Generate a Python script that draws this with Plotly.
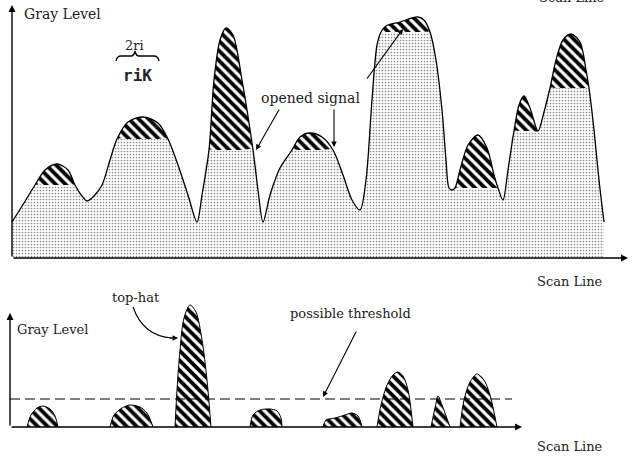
import plotly.graph_objects as go

W, H = 633, 456

# ---------------- data (scan position, gray level) ----------------
# top panel: original signal
signal_x = [0, 12, 23, 33, 45, 56, 63, 70, 75, 82, 90, 98, 105, 116, 131, 146, 156, 166, 176, 185,
            190, 197, 202, 208, 214, 221, 230, 241, 246, 251, 258, 268, 280, 288, 298, 310, 321, 331,
            340, 348, 354, 360, 365, 369, 374, 388, 400, 406, 412, 418, 424, 430, 434, 437, 440, 443,
            448, 456, 466, 475, 482, 486, 491, 496, 502, 507, 512, 518, 526, 532, 538, 544, 551, 559,
            568, 574, 577, 582, 587, 592]
signal_y = [36, 55, 73, 88, 94, 88, 73, 62, 57, 62, 73, 98, 119, 136, 141, 135, 119, 93, 63, 36,
            63, 108, 178, 218, 230, 223, 178, 108, 68, 36, 63, 90, 108, 121, 125, 121, 108, 83,
            58, 48, 78, 158, 213, 226, 232, 236, 240, 241, 238, 226, 198, 148, 98, 70, 68, 70,
            88, 113, 123, 110, 83, 70, 58, 88, 127, 153, 162, 150, 127, 146, 170, 198, 218, 224,
            216, 188, 170, 128, 78, 36]

# opening: peaks narrower than the structuring element are clipped to these levels
hump_start = [23, 105, 197, 280, 369, 443, 502, 538]
hump_end = [63, 156, 241, 321, 418, 486, 526, 577]
hump_level = [73, 119, 108, 108, 226, 70, 127, 170]

# bottom panel: top-hat residues (signal - opening)
tophat_x = [
    [17, 21, 27, 33, 40, 45, 48],
    [100, 104, 112, 120, 130, 137, 143],
    [165, 167, 170, 174, 180, 186, 192, 197, 201],
    [240, 243, 250, 260, 267, 271, 272],
    [313, 316, 325, 335, 342, 348, 352],
    [367, 371, 377, 383, 388, 393, 398, 403],
    [421, 425, 428, 432, 440],
    [450, 454, 460, 467, 474, 480, 487],
]
tophat_y = [
    [0, 12, 19, 21, 18, 11, 0],
    [0, 12, 19, 22, 20, 14, 0],
    [0, 37, 77, 109, 122, 115, 87, 47, 0],
    [0, 12, 17, 18, 16, 9, 0],
    [0, 7, 9, 12, 14, 11, 0],
    [0, 22, 42, 52, 55, 51, 37, 0],
    [0, 19, 31, 22, 0],
    [0, 27, 45, 53, 47, 32, 0],
]
threshold = 28
threshold_span = [0, 502]

# derived opening curve
opening_y = []
for xv, yv in zip(signal_x, signal_y):
    lv = yv
    for s, e, l in zip(hump_start, hump_end, hump_level):
        if s <= xv <= e:
            lv = min(yv, l)
    opening_y.append(lv)

HATCH = dict(shape="\\", size=7, solidity=0.55, fgcolor="black", fgopacity=1, bgcolor="white")
DOTS = dict(shape=".", size=3, solidity=0.25, fgcolor="#8c8c8c", fgopacity=1, bgcolor="white")
SM = 0.85

fig = go.Figure()
fig.add_trace(go.Scatter(x=signal_x, y=signal_y, mode="lines", fill="tozeroy",
                         line=dict(width=0, shape="spline", smoothing=SM),
                         fillpattern=HATCH, fillcolor="white", hoverinfo="skip"))
fig.add_trace(go.Scatter(x=signal_x, y=opening_y, mode="lines", fill="tozeroy",
                         line=dict(width=0, shape="spline", smoothing=SM),
                         fillpattern=DOTS, fillcolor="white", hoverinfo="skip"))
fig.add_trace(go.Scatter(x=signal_x, y=signal_y, mode="lines",
                         line=dict(width=1.3, color="black", shape="spline", smoothing=SM),
                         hoverinfo="skip"))

for hx, hy in zip(tophat_x, tophat_y):
    fig.add_trace(go.Scatter(x=hx, y=hy, mode="lines", fill="tozeroy",
                             line=dict(width=1, color="black", shape="spline", smoothing=SM),
                             fillpattern=HATCH, fillcolor="white",
                             xaxis="x2", yaxis="y2", hoverinfo="skip"))

fig.add_trace(go.Scatter(x=threshold_span, y=[threshold, threshold], mode="lines",
                         line=dict(width=1, color="black", dash="10px,5px"),
                         xaxis="x2", yaxis="y2", hoverinfo="skip"))

split = 1 - 270 / H
ax_off = dict(visible=False, showgrid=False, zeroline=False, fixedrange=True)
fig.update_layout(
    width=W, height=H, autosize=False,
    margin=dict(l=0, r=0, t=0, b=0),
    paper_bgcolor="white", plot_bgcolor="white",
    showlegend=False,
    xaxis=dict(domain=[0, 1], range=[-12, 621], **ax_off),
    yaxis=dict(domain=[split, 1], range=[-12, 258], **ax_off),
    xaxis2=dict(domain=[0, 1], range=[-10, 623], anchor="y2", **ax_off),
    yaxis2=dict(domain=[0, split], range=[-29, 157], anchor="x2", **ax_off),
)


def px(x):
    return x / W


def py(y):
    return 1 - y / H


SERIF = "DejaVu Serif"
TXT = "#222"


def label(text, x, y, size=13, family=SERIF, bold=False):
    if bold:
        text = "<b>" + text + "</b>"
    fig.add_annotation(text=text, x=px(x), y=py(y), xref="paper", yref="paper",
                       showarrow=False, xanchor="center", yanchor="middle",
                       font=dict(family=family, size=size, color=TXT))


def arrow(tip, tail, head=2, size=1.0, width=1.1):
    fig.add_annotation(text="", x=px(tip[0]), y=py(tip[1]), xref="paper", yref="paper",
                       ax=tail[0] - tip[0], ay=tail[1] - tip[1],
                       showarrow=True, arrowhead=head, arrowsize=size, arrowwidth=width,
                       arrowcolor="black")


# axes
arrow((628, 258), (12, 258), width=1.4)
arrow((12, 5), (12, 258), width=1.4)
arrow((522, 427), (10, 427), width=1.4)
arrow((10, 313), (10, 427), width=1.4)

# texts
label("Gray Level", 62, 14, size=14)
label("Scan Line", 572, -3)
label("Scan Line", 570, 281)
label("Gray Level", 52, 329)
label("Scan Line", 570, 446)
label("2ri", 134, 45, size=13)
label("riK", 137, 76, size=16, family="DejaVu Sans Mono", bold=True)
label("opened signal", 310, 98, size=14)
label("top-hat", 136, 297)
label("possible threshold", 350, 313)

# opened-signal arrows
arrow((256, 150), (280, 108))
arrow((334, 147), (334, 108))
arrow((403, 29), (366, 80))

# threshold arrow
arrow((323, 397), (357, 330))

# curved top-hat arrow
fig.add_shape(type="path", xref="paper", yref="paper",
              path=f"M {px(133)} {py(307)} Q {px(143)} {py(336)} {px(172)} {py(338)}",
              line=dict(color="black", width=1.1))
arrow((178, 338), (168, 338))

# brace under "2ri"
bp = [(116, 61), (117, 56), (121, 56), (131, 56), (134, 56), (135, 51), (136, 56), (139, 56),
      (154, 56), (158, 56), (159, 61)]
path = (f"M {px(bp[0][0])} {py(bp[0][1])} Q {px(bp[1][0])} {py(bp[1][1])} {px(bp[2][0])} {py(bp[2][1])} "
        f"L {px(bp[3][0])} {py(bp[3][1])} Q {px(bp[4][0])} {py(bp[4][1])} {px(bp[5][0])} {py(bp[5][1])} "
        f"Q {px(bp[6][0])} {py(bp[6][1])} {px(bp[7][0])} {py(bp[7][1])} "
        f"L {px(bp[8][0])} {py(bp[8][1])} Q {px(bp[9][0])} {py(bp[9][1])} {px(bp[10][0])} {py(bp[10][1])}")
fig.add_shape(type="path", xref="paper", yref="paper", path=path,
              line=dict(color="black", width=1.3))

fig.write_html("out.html", config={"displayModeBar": False},
               post_script="document.body.style.margin='0';document.body.style.overflow='hidden';")
